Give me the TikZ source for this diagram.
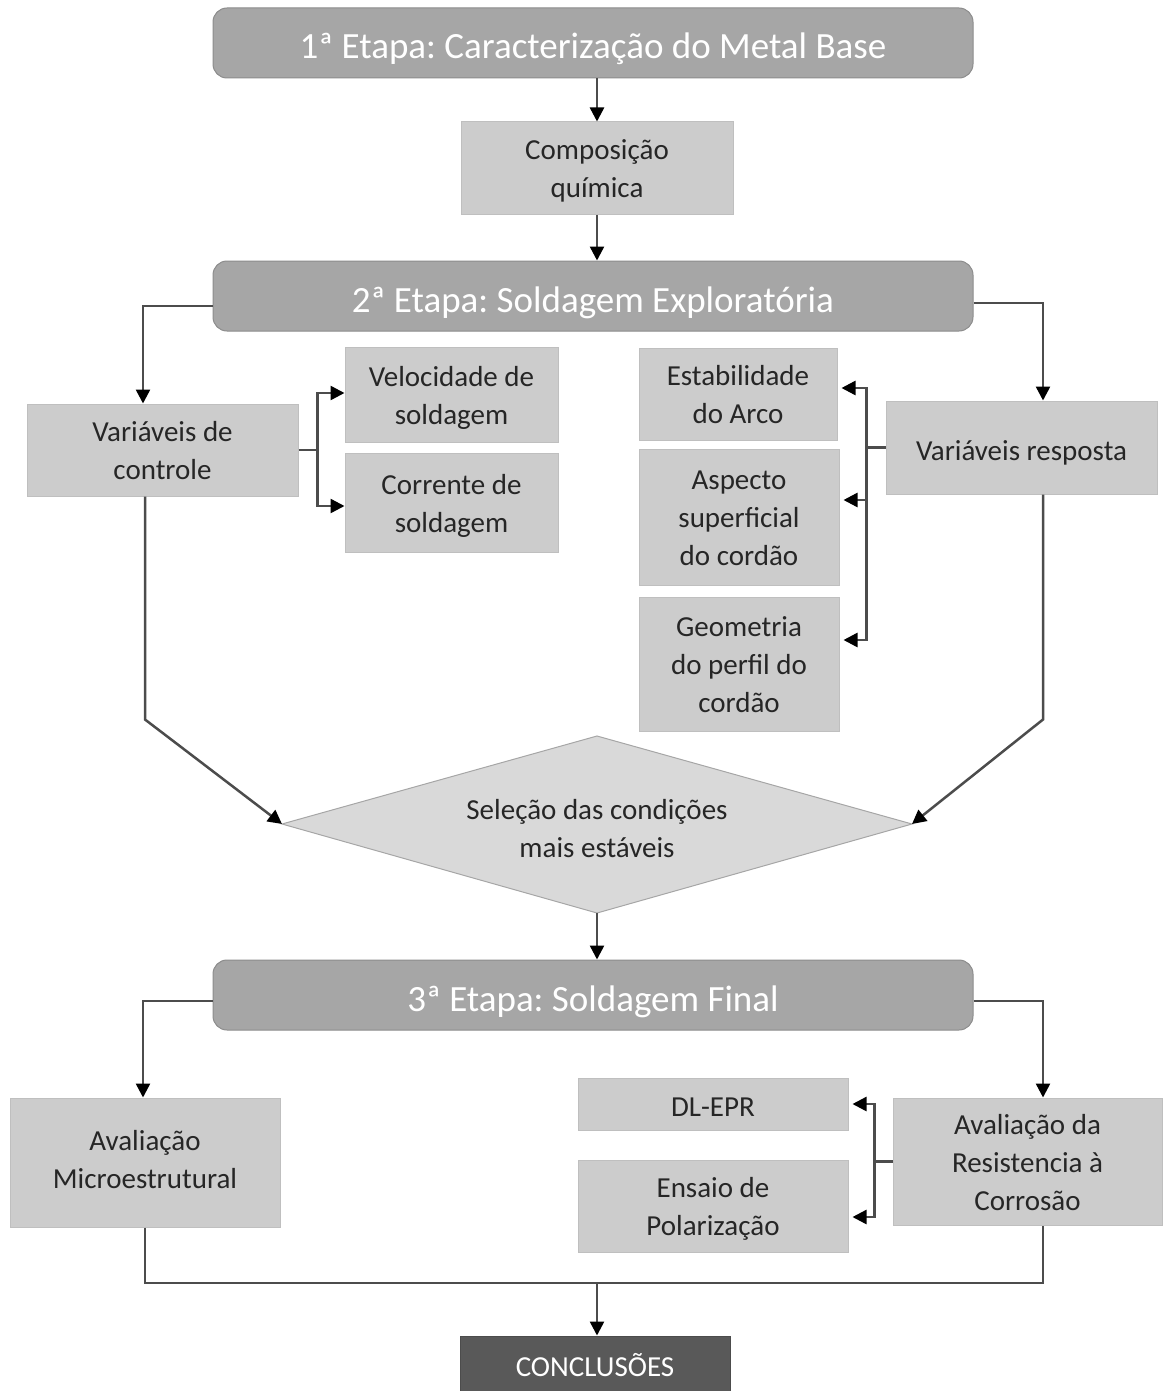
\documentclass[tikz,border=0pt]{standalone}
\usepackage{fontspec}
\setmainfont{Carlito}
\usetikzlibrary{arrows.meta,calc}
\frenchspacing
\newcommand{\bstrut}{\rule{0pt}{29pt}}
\newcommand{\lstrut}{\rule{0pt}{21pt}}
\newcommand{\estrut}{\rule[-8pt]{0pt}{8pt}}
\newcommand{\sstrut}{\rule[-8pt]{0pt}{41pt}}
\newcommand{\hstrut}{\rule[-8pt]{0pt}{48pt}}
\begin{document}
\begin{tikzpicture}[x=1pt,y=-1pt,
  every node/.style={inner sep=0pt, align=center},
  head/.style={draw=black!45, line width=1pt, fill=black!35, rounded corners=14pt,
    minimum width=760pt, minimum height=70pt, text=white, font=\fontsize{37}{44}\selectfont},
  txt/.style={text=black!85, font=\fontsize{29}{38}\selectfont},
  lbox/.style={txt, draw=black!25, line width=1pt, fill=black!20},
  ln/.style={draw=black!70, line width=2.5pt},
  arr/.style={ln, -{Triangle[length=14pt,width=14pt,color=black]}},
]
\useasboundingbox (0,0) rectangle (1162,1391);

% headings
\node[head] (h1) at (593,43) {\hstrut 1ª Etapa: Caracterização do Metal Base};
\node[lbox, minimum width=272pt, minimum height=92pt] (comp) at (597,168) {\bstrut Composição\\química\estrut};
\node[head] (h2) at (593,296) {\hstrut 2ª Etapa: Soldagem Exploratória};

% control variables
\node[lbox, minimum width=271pt, minimum height=92pt] (ctrl) at (162.5,450) {\bstrut Variáveis de\\controle\estrut};
\node[lbox, minimum width=213pt, minimum height=95pt] (vel) at (451.5,394.5) {\bstrut Velocidade de\\soldagem\estrut};
\node[lbox, minimum width=213pt, minimum height=99pt] (corr) at (451.5,502.5) {\bstrut Corrente de\\soldagem\estrut};

% response variables
\node[lbox, minimum width=271pt, minimum height=93pt] (resp) at (1021.5,447.5) {\sstrut Variáveis resposta};
\node[lbox, minimum width=198pt, minimum height=92pt] (estab) at (738,394) {\bstrut Estabilidade\\do Arco\estrut};
\node[lbox, minimum width=200pt, minimum height=136pt] (asp) at (739,517) {\bstrut Aspecto\\superficial\\do cordão\estrut};
\node[lbox, minimum width=200pt, minimum height=134pt] (geo) at (739,664) {\bstrut Geometria\\do perfil do\\cordão\estrut};

% decision diamond
\coordinate (dL) at (282,824);
\coordinate (dR) at (912,824);
\coordinate (dT) at (597,736);
\coordinate (dB) at (597,913);
\draw[draw=black!35, line width=1pt, fill=black!15] (dL) -- (dT) -- (dR) -- (dB) -- cycle;
\node[txt] (sel) at (597,828) {\bstrut Seleção das condições\\mais estáveis\estrut};

% third stage
\node[head] (h3) at (593,995) {\hstrut 3ª Etapa: Soldagem Final};
\node[lbox, minimum width=270pt, minimum height=129pt] (micro) at (145,1162.5) {\lstrut Avaliação\\Microestrutural\estrut};
\node[lbox, minimum width=269pt, minimum height=127pt] (resist) at (1027.5,1161.5) {\bstrut Avaliação da\\Resistencia à\\Corrosão\estrut};
\node[lbox, minimum width=270pt, minimum height=52pt] (dlepr) at (713,1104) {\sstrut DL-EPR};
\node[lbox, minimum width=270pt, minimum height=92pt] (ens) at (713,1206) {\bstrut Ensaio de\\Polarização\estrut};
\node[txt, draw=black!70, line width=1pt, fill=black!65, text=white, minimum width=270pt,
  minimum height=55pt] (concl) at (595,1363.5) {\sstrut CONCLUSÕES};

% connectors
\draw[arr] (h1.south -| comp.north) -- (comp.north);
\draw[arr] (comp.south) -- (h2.north -| comp.south);
\draw[arr] ([yshift=-10pt]h2.west) -| ([xshift=-19.5pt]ctrl.north);
\draw[arr] ([yshift=-7pt]h2.east) -| ([xshift=21.5pt]resp.north);

\draw[ln] (ctrl.east) -- ++(19,0) coordinate (cj);
\draw[arr] (cj) |- ([yshift=1.5pt]vel.west);
\draw[arr] (cj) |- ([yshift=-3.5pt]corr.west);

\draw[ln] (resp.west) -- ++(-19,0) coordinate (rj);
\draw[arr] (rj) |- ([xshift=4pt,yshift=6pt]estab.east);
\draw[arr] (rj) |- ([xshift=4pt,yshift=17pt]asp.east);
\draw[arr] (rj) |- ([xshift=4pt,yshift=24pt]geo.east);

\draw[arr] ([xshift=-17.5pt]ctrl.south) -- ++(0,223) -- (dL);
\draw[arr] ([xshift=21.5pt]resp.south) -- ++(0,225) -- (dR);

\draw[arr] (dB) -- (h3.north -| dB);
\draw[arr] ([yshift=-6pt]h3.west) -| ([xshift=-2pt]micro.north);
\draw[arr] ([yshift=-6pt]h3.east) -| ([xshift=15.5pt]resist.north);

\draw[ln] (resist.west) -- ++(-18,0) coordinate (sj);
\draw[arr] (sj) |- ([xshift=4pt]dlepr.east);
\draw[arr] (sj) |- ([xshift=4pt,yshift=-11pt]ens.east);

\coordinate (bj) at (597,1283);
\draw[ln] (micro.south) |- (bj) -| ([xshift=15.5pt]resist.south);
\draw[arr] (bj) -- (concl.north -| bj);
\end{tikzpicture}
\end{document}
